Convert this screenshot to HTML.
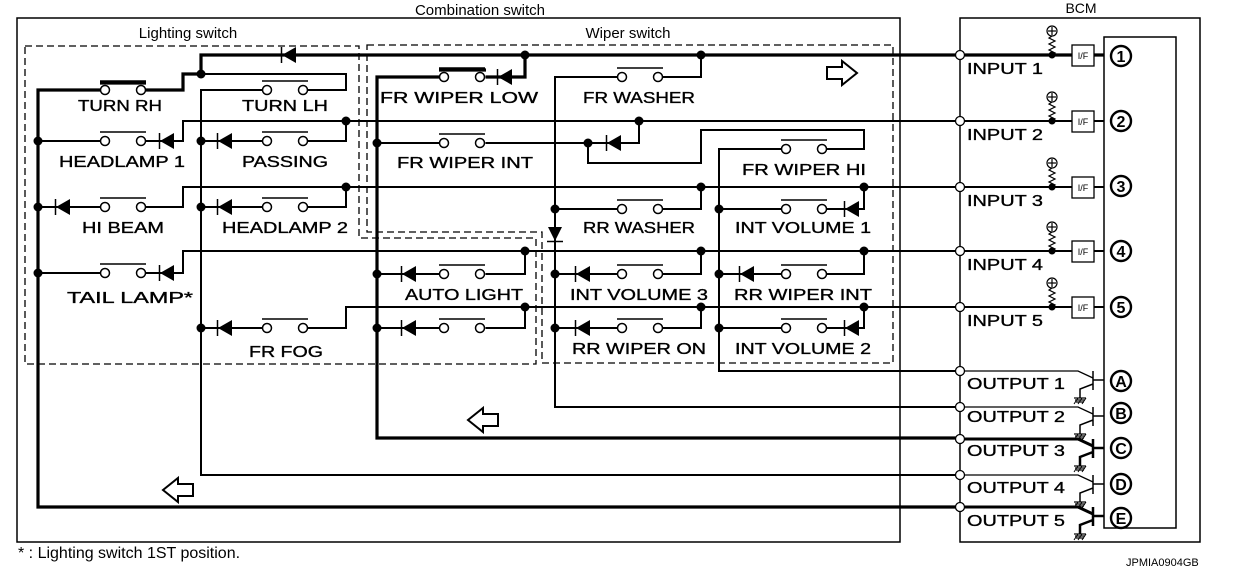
<!DOCTYPE html>
<html><head><meta charset="utf-8"><style>
html,body{margin:0;padding:0;background:#fff;}
svg{display:block;}
text{font-family:"Liberation Sans",sans-serif;fill:#000;}
.l{font-size:16px;}
.l text{stroke:#000;stroke-width:0.35;}
</style></head><body>
<svg width="1248" height="574" viewBox="0 0 1248 574" xmlns="http://www.w3.org/2000/svg">
<defs>
<g id="sw"><circle cx="0" cy="0" r="4.5" fill="#fff" stroke="#000" stroke-width="1.5"/><circle cx="36" cy="0" r="4.5" fill="#fff" stroke="#000" stroke-width="1.5"/><line x1="-5" y1="-9" x2="41" y2="-9" stroke="#000" stroke-width="1.5"/></g>
<g id="dl"><polygon points="0,0 14,-8 14,8" fill="#000"/><line x1="-0.5" y1="-8" x2="-0.5" y2="8" stroke="#000" stroke-width="1.5"/></g>
<g id="gnd"><line x1="-6" y1="0" x2="6" y2="0" stroke="#000" stroke-width="1.2"/><line x1="-5" y1="2" x2="5" y2="2" stroke="#000" stroke-width="1.2"/><line x1="-4" y1="4" x2="4" y2="4" stroke="#000" stroke-width="1.2"/><line x1="-6" y1="6" x2="-2" y2="0" stroke="#000" stroke-width="1"/><line x1="-2" y1="6" x2="2" y2="0" stroke="#000" stroke-width="1"/><line x1="2" y1="6" x2="6" y2="0" stroke="#000" stroke-width="1"/></g>
<g id="pu"><circle cx="0" cy="-24" r="5" fill="#fff" stroke="#000" stroke-width="1.2"/><line x1="-4" y1="-24" x2="4" y2="-24" stroke="#000" stroke-width="1.2"/><line x1="0" y1="-28" x2="0" y2="-20" stroke="#000" stroke-width="1.2"/><polyline points="0,-19 -3,-17 3,-14 -3,-11 3,-8 -3,-5 3,-2 0,0" fill="none" stroke="#000" stroke-width="1.2"/><circle cx="0" cy="0" r="3.5" fill="#000"/></g>
</defs>

<rect x="17" y="18" width="883" height="524" fill="none" stroke="#000" stroke-width="1.5"/>
<rect x="960" y="18" width="240" height="524" fill="none" stroke="#000" stroke-width="1.5"/>
<rect x="1104" y="37" width="72" height="491" fill="none" stroke="#000" stroke-width="1.5"/>
<path d="M25,46 H359 V238 H536 V364 H25 Z" fill="none" stroke="#000" stroke-width="1.3" stroke-dasharray="7,4"/>
<path d="M367,45 H893 V363 H542 V232 H367 Z" fill="none" stroke="#000" stroke-width="1.3" stroke-dasharray="7,4"/>

<text x="480" y="15" font-size="15" text-anchor="middle">Combination switch</text>
<text x="188" y="38" font-size="15" text-anchor="middle">Lighting switch</text>
<text x="628" y="38" font-size="15" text-anchor="middle">Wiper switch</text>
<text x="1081" y="13" font-size="14" text-anchor="middle">BCM</text>

<g fill="none" stroke="#000" stroke-width="3.2">
<path d="M960,55 H201 V74 H183 V90 H144.5"/>
<path d="M100.5,90 H38 V507 H960"/>
<line x1="100" y1="83" x2="146" y2="83"/>
<path d="M525,55 V77 H485.5"/>
<path d="M439.5,77 H377 V438 H960"/>
<line x1="439" y1="70" x2="486" y2="70"/>
</g>
<g fill="none" stroke="#000" stroke-width="2">
<path d="M201,74 H346 V90 H307.5"/>
<path d="M263.5,90 H201 V475 H960"/>
<path d="M960,121 H183 V141 H144.5"/><path d="M100.5,141 H38"/>
<path d="M346,121 V141 H307.5"/><path d="M263.5,141 H201"/>
<path d="M960,187 H183 V207 H144.5"/><path d="M100.5,207 H38"/>
<path d="M346,187 V207 H307.5"/><path d="M263.5,207 H201"/>
<path d="M960,251 H183 V273 H144.5"/><path d="M100.5,273 H38"/>
<path d="M960,307 H346 V328 H307.5"/><path d="M263.5,328 H201"/>
<path d="M701,55 V77 H662.5"/><path d="M618.5,77 H555 V407 H960"/>
<path d="M639,121 V143 H588"/>
<path d="M377,143 H439.5"/><path d="M485.5,143 H588"/>
<path d="M588,143 V163 H701 V130 H864 V149 H826.5"/><path d="M781.5,149 H719 V371 H960"/>
<path d="M701,187 V209 H662.5"/><path d="M618.5,209 H555"/>
<path d="M864,187 V209 H826.5"/><path d="M781.5,209 H719"/>
<path d="M525,251 V274 H485.5"/><path d="M439.5,274 H377"/>
<path d="M701,251 V274 H662.5"/><path d="M618.5,274 H555"/>
<path d="M864,251 V274 H826.5"/><path d="M781.5,274 H719"/>
<path d="M525,307 V328 H485.5"/><path d="M439.5,328 H377"/>
<path d="M701,307 V328 H662.5"/><path d="M618.5,328 H555"/>
<path d="M864,307 V328 H826.5"/><path d="M781.5,328 H719"/>
</g>

<use href="#sw" x="105" y="90"/><use href="#sw" x="267" y="90"/>
<use href="#sw" x="105" y="141"/><use href="#sw" x="267" y="141"/>
<use href="#sw" x="105" y="207"/><use href="#sw" x="267" y="207"/>
<use href="#sw" x="105" y="273"/><use href="#sw" x="267" y="328"/>
<use href="#sw" x="444" y="77"/><use href="#sw" x="622" y="77"/>
<use href="#sw" x="444" y="143"/><use href="#sw" x="786" y="149"/>
<use href="#sw" x="622" y="209"/><use href="#sw" x="786" y="209"/>
<use href="#sw" x="444" y="274"/><use href="#sw" x="622" y="274"/><use href="#sw" x="786" y="274"/>
<use href="#sw" x="444" y="328"/><use href="#sw" x="622" y="328"/><use href="#sw" x="786" y="328"/>

<use href="#dl" x="282" y="55"/>
<use href="#dl" x="160" y="141"/><use href="#dl" x="218" y="141"/>
<use href="#dl" x="56" y="207"/><use href="#dl" x="218" y="207"/>
<use href="#dl" x="160" y="273"/><use href="#dl" x="218" y="328"/>
<use href="#dl" x="498" y="77"/><use href="#dl" x="607" y="143"/>
<use href="#dl" x="845" y="209"/>
<use href="#dl" x="402" y="274"/><use href="#dl" x="576" y="274"/><use href="#dl" x="740" y="274"/>
<use href="#dl" x="402" y="328"/><use href="#dl" x="576" y="328"/><use href="#dl" x="845" y="328"/>
<polygon points="548,227 562,227 555,241" fill="#000"/><line x1="547" y1="241.5" x2="563" y2="241.5" stroke="#000" stroke-width="1.5"/>

<g fill="#000">
<circle cx="201" cy="74" r="4.5"/>
<circle cx="38" cy="141" r="4.5"/><circle cx="38" cy="207" r="4.5"/><circle cx="38" cy="273" r="4.5"/>
<circle cx="201" cy="141" r="4.5"/><circle cx="201" cy="207" r="4.5"/><circle cx="201" cy="328" r="4.5"/>
<circle cx="346" cy="121" r="4.5"/><circle cx="346" cy="187" r="4.5"/>
<circle cx="525" cy="55" r="4.5"/><circle cx="701" cy="55" r="4.5"/>
<circle cx="639" cy="121" r="4.5"/><circle cx="588" cy="143" r="4.5"/><circle cx="377" cy="143" r="4.5"/>
<circle cx="701" cy="187" r="4.5"/><circle cx="864" cy="187" r="4.5"/><circle cx="555" cy="209" r="4.5"/><circle cx="719" cy="209" r="4.5"/>
<circle cx="525" cy="251" r="4.5"/><circle cx="701" cy="251" r="4.5"/><circle cx="864" cy="251" r="4.5"/>
<circle cx="377" cy="274" r="4.5"/><circle cx="555" cy="274" r="4.5"/><circle cx="719" cy="274" r="4.5"/>
<circle cx="525" cy="307" r="4.5"/><circle cx="701" cy="307" r="4.5"/><circle cx="864" cy="307" r="4.5"/>
<circle cx="377" cy="328" r="4.5"/><circle cx="555" cy="328" r="4.5"/><circle cx="719" cy="328" r="4.5"/>
</g>

<g fill="#fff" stroke="#000" stroke-width="2">
<path d="M827,67 H842 V61 L857,73 L842,85 V79 H827 Z"/>
<path d="M498,414 H483 V408 L468,420 L483,432 V426 H498 Z"/>
<path d="M193,484 H178 V478 L163,490 L178,502 V496 H193 Z"/>
</g>

<g class="l">
<text x="78" y="111" textLength="84" lengthAdjust="spacingAndGlyphs">TURN RH</text>
<text x="242" y="111" textLength="86" lengthAdjust="spacingAndGlyphs">TURN LH</text>
<text x="59" y="167" textLength="126" lengthAdjust="spacingAndGlyphs">HEADLAMP 1</text>
<text x="242" y="167" textLength="86" lengthAdjust="spacingAndGlyphs">PASSING</text>
<text x="82" y="233" textLength="82" lengthAdjust="spacingAndGlyphs">HI BEAM</text>
<text x="222" y="233" textLength="126" lengthAdjust="spacingAndGlyphs">HEADLAMP 2</text>
<text x="67" y="303" textLength="126" lengthAdjust="spacingAndGlyphs">TAIL LAMP*</text>
<text x="249" y="357" textLength="74" lengthAdjust="spacingAndGlyphs">FR FOG</text>
<text x="380" y="103" textLength="158" lengthAdjust="spacingAndGlyphs">FR WIPER LOW</text>
<text x="583" y="103" textLength="112" lengthAdjust="spacingAndGlyphs">FR WASHER</text>
<text x="397" y="168" textLength="136" lengthAdjust="spacingAndGlyphs">FR WIPER INT</text>
<text x="742" y="175" textLength="124" lengthAdjust="spacingAndGlyphs">FR WIPER HI</text>
<text x="583" y="233" textLength="112" lengthAdjust="spacingAndGlyphs">RR WASHER</text>
<text x="735" y="233" textLength="136" lengthAdjust="spacingAndGlyphs">INT VOLUME 1</text>
<text x="405" y="300" textLength="118" lengthAdjust="spacingAndGlyphs">AUTO LIGHT</text>
<text x="570" y="300" textLength="138" lengthAdjust="spacingAndGlyphs">INT VOLUME 3</text>
<text x="734" y="300" textLength="138" lengthAdjust="spacingAndGlyphs">RR WIPER INT</text>
<text x="572" y="354" textLength="134" lengthAdjust="spacingAndGlyphs">RR WIPER ON</text>
<text x="735" y="354" textLength="136" lengthAdjust="spacingAndGlyphs">INT VOLUME 2</text>
</g>

<g fill="none" stroke="#000">
<path d="M965,55 H1072 M1094,55 H1104" stroke-width="3.2"/>
<path d="M965,121 H1072 M1094,121 H1104 M965,187 H1072 M1094,187 H1104 M965,251 H1072 M1094,251 H1104 M965,307 H1072 M1094,307 H1104" stroke-width="2"/>
<g stroke-width="1.3">
<rect x="1072" y="45" width="22" height="21" fill="#fff"/>
<rect x="1072" y="111" width="22" height="21" fill="#fff"/>
<rect x="1072" y="177" width="22" height="21" fill="#fff"/>
<rect x="1072" y="241" width="22" height="21" fill="#fff"/>
<rect x="1072" y="297" width="22" height="21" fill="#fff"/>
</g>
</g>
<g font-size="9" text-anchor="middle">
<text x="1083" y="59">I/F</text><text x="1083" y="125">I/F</text><text x="1083" y="191">I/F</text><text x="1083" y="255">I/F</text><text x="1083" y="311">I/F</text>
</g>
<use href="#pu" x="1052" y="55"/><use href="#pu" x="1052" y="121"/><use href="#pu" x="1052" y="187"/><use href="#pu" x="1052" y="251"/><use href="#pu" x="1052" y="307"/>

<g fill="none" stroke="#000">
<path d="M965,371 H1078 L1093,378 M965,407 H1078 L1093,414 M965,475 H1078 L1093,482" stroke-width="1.3"/>
<path d="M965,439 H1078 L1093,446 M965,507 H1078 L1093,514" stroke-width="3"/>
<g stroke-width="1.5">
<path d="M1093,371 V390 M1093,380 H1104 M1093,384 L1080,389 V398"/>
<path d="M1093,407 V426 M1093,416 H1104 M1093,420 L1080,425 V434"/>
<path d="M1093,475 V494 M1093,484 H1104 M1093,488 L1080,493 V502"/>
</g>
<g stroke-width="2.5">
<path d="M1093,439 V458 M1093,448 H1104 M1093,452 L1080,457 V466"/>
<path d="M1093,507 V526 M1093,516 H1104 M1093,520 L1080,525 V534"/>
</g>
</g>
<use href="#gnd" x="1080" y="398"/><use href="#gnd" x="1080" y="434"/><use href="#gnd" x="1080" y="466"/><use href="#gnd" x="1080" y="502"/><use href="#gnd" x="1080" y="534"/>

<g fill="#fff" stroke="#000" stroke-width="1.3">
<circle cx="960" cy="55" r="4.5"/><circle cx="960" cy="121" r="4.5"/><circle cx="960" cy="187" r="4.5"/><circle cx="960" cy="251" r="4.5"/><circle cx="960" cy="307" r="4.5"/>
<circle cx="960" cy="371" r="4.5"/><circle cx="960" cy="407" r="4.5"/><circle cx="960" cy="439" r="4.5"/><circle cx="960" cy="475" r="4.5"/><circle cx="960" cy="507" r="4.5"/>
</g>
<g class="l">
<text x="967" y="74" textLength="76" lengthAdjust="spacingAndGlyphs">INPUT 1</text>
<text x="967" y="140" textLength="76" lengthAdjust="spacingAndGlyphs">INPUT 2</text>
<text x="967" y="206" textLength="76" lengthAdjust="spacingAndGlyphs">INPUT 3</text>
<text x="967" y="270" textLength="76" lengthAdjust="spacingAndGlyphs">INPUT 4</text>
<text x="967" y="326" textLength="76" lengthAdjust="spacingAndGlyphs">INPUT 5</text>
<text x="967" y="389" textLength="98" lengthAdjust="spacingAndGlyphs">OUTPUT 1</text>
<text x="967" y="422" textLength="98" lengthAdjust="spacingAndGlyphs">OUTPUT 2</text>
<text x="967" y="456" textLength="98" lengthAdjust="spacingAndGlyphs">OUTPUT 3</text>
<text x="967" y="493" textLength="98" lengthAdjust="spacingAndGlyphs">OUTPUT 4</text>
<text x="967" y="526" textLength="98" lengthAdjust="spacingAndGlyphs">OUTPUT 5</text>
</g>
<g fill="#fff" stroke="#000" stroke-width="2.4">
<circle cx="1121" cy="56" r="10"/><circle cx="1121" cy="121" r="10"/><circle cx="1121" cy="186" r="10"/><circle cx="1121" cy="251" r="10"/><circle cx="1121" cy="307" r="10"/>
<circle cx="1121" cy="381" r="10"/><circle cx="1121" cy="413" r="10"/><circle cx="1121" cy="448" r="10"/><circle cx="1121" cy="484" r="10"/><circle cx="1121" cy="518" r="10"/>
</g>
<g font-size="16" font-weight="bold" text-anchor="middle">
<text x="1121" y="62">1</text><text x="1121" y="127">2</text><text x="1121" y="192">3</text><text x="1121" y="257">4</text><text x="1121" y="313">5</text>
<text x="1121" y="387">A</text><text x="1121" y="419">B</text><text x="1121" y="454">C</text><text x="1121" y="490">D</text><text x="1121" y="524">E</text>
</g>

<text x="18" y="558" font-size="16">* : Lighting switch 1ST position.</text>
<text x="1126" y="566" font-size="11">JPMIA0904GB</text>
</svg>
</body></html>
